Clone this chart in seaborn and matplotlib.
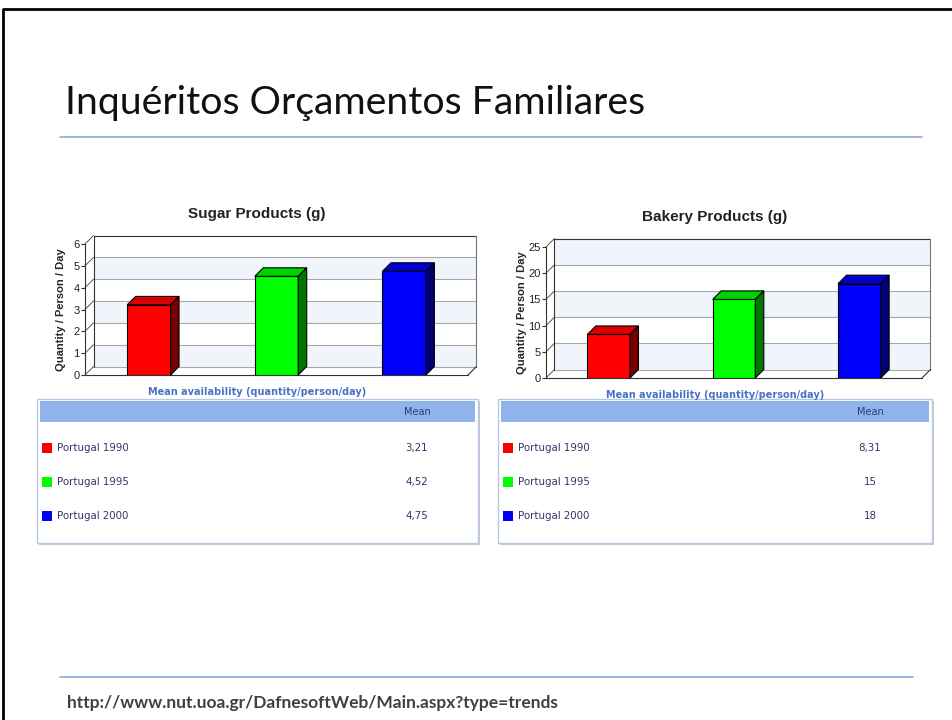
import numpy as np
import pandas as pd
import matplotlib.pyplot as plt
import seaborn as sns
from matplotlib.patches import Polygon, Rectangle
from matplotlib.transforms import IdentityTransform

W, H = 953, 720

series = ['Portugal 1990', 'Portugal 1995', 'Portugal 2000']
colors = ['#ff0000', '#00ff00', '#0000ff']
top_colors = ['#d80000', '#00d400', '#0000d4']
side_colors = ['#780000', '#007800', '#000078']

sugar = [3.21, 4.52, 4.75]
sugar_txt = ['3,21', '4,52', '4,75']
sugar_ticks = [0, 1, 2, 3, 4, 5, 6]

bakery = [8.31, 15, 18]
bakery_txt = ['8,31', '15', '18']
bakery_ticks = [0, 5, 10, 15, 20, 25]

sns.set_style('white')
plt.rcParams['font.family'] = ['Liberation Sans', 'DejaVu Sans']

fig = plt.figure(figsize=(W / 100, H / 100), dpi=100)
bg = fig.add_axes([0, 0, 1, 1])
bg.set_xlim(0, W)
bg.set_ylim(H, 0)
bg.axis('off')


def rect(l, t, r, b):
    return [l / W, 1 - b / H, (r - l) / W, (b - t) / H]


def fit(txt, width):
    # scale the font so the text spans the given pixel width
    r = fig.canvas.get_renderer()
    w = txt.get_window_extent(r).width
    txt.set_fontsize(txt.get_fontsize() * width / w)


# slide frame, title and rules
bg.plot([3, 3, W], [H, 9, 9], color='black', lw=2)
t = bg.text(65, 114, 'Inquéritos Orçamentos Familiares', fontsize=28,
            family='Lato', color='#111111', va='baseline')
fit(t, 580)
bg.plot([60, 922], [137, 137], color='#8eaad4', lw=1.2)
bg.plot([60, 913], [677, 677], color='#8eaad4', lw=1.2)
f = bg.text(67, 708, 'http://www.nut.uoa.gr/DafnesoftWeb/Main.aspx?type=trends',
            fontsize=10, family='Lato', fontweight='bold', color='#404040',
            va='baseline')
fit(f, 490)

D = 8.5  # depth of the fake 3d effect, pixels


def chart(box, values, ticks, title, cx):
    ax = fig.add_axes(rect(*box))
    df = pd.DataFrame({'serie': series, 'value': values})
    sns.barplot(data=df, x='serie', y='value', hue='serie', palette=colors,
                width=0.34, edgecolor='black', linewidth=0.8, legend=False,
                saturation=1, ax=ax, zorder=3)
    bars = sorted(ax.patches, key=lambda p: p.get_x())
    ax.set_autoscale_on(False)
    ax.set_xlim(-0.5, 2.5)
    ax.set_ylim(0, ticks[-1])
    x0, x1 = ax.get_xlim()
    tr = ax.transData.transform

    def pt(x, y, back=False):
        px, py = tr((x, y))
        return (px + D, py + D) if back else (px, py)

    def poly(pts, fc, ec='none', z=0, lw=0.8):
        ax.add_patch(Polygon(pts, closed=True, fc=fc, ec=ec, lw=lw, zorder=z,
                             transform=IdentityTransform(), clip_on=False))

    def line(a, b, c, z=1, lw=0.8):
        ax.plot([a[0], b[0]], [a[1], b[1]], color=c, lw=lw, zorder=z,
                transform=IdentityTransform(), clip_on=False)

    # back wall with bands
    for i in range(len(ticks) - 1):
        fc = '#f0f5fc' if i % 2 == 0 else 'white'
        poly([pt(x0, ticks[i], 1), pt(x1, ticks[i], 1),
              pt(x1, ticks[i + 1], 1), pt(x0, ticks[i + 1], 1)], fc)
    for v in ticks:
        line(pt(x0, v, 1), pt(x1, v, 1), '#a8a8a8')
        line(pt(x0, v), pt(x0, v, 1), '#555555', lw=0.7)
    line(pt(x0, ticks[-1], 1), pt(x1, ticks[-1], 1), '#333333')
    line(pt(x0, 0, 1), pt(x0, ticks[-1], 1), '#333333')
    line(pt(x1, 0, 1), pt(x1, ticks[-1], 1), '#777777')
    # floor
    line(pt(x0, 0), pt(x1, 0), '#333333', z=2)
    line(pt(x1, 0), pt(x1, 0, 1), '#333333', z=2)

    # tops and sides of the bars
    for p, tc, sc in zip(bars, top_colors, side_colors):
        bx0, bx1, h = p.get_x(), p.get_x() + p.get_width(), p.get_height()
        poly([pt(bx0, h), pt(bx1, h), pt(bx1, h, 1), pt(bx0, h, 1)], tc, 'black', 4)
        poly([pt(bx1, 0), pt(bx1, h), pt(bx1, h, 1), pt(bx1, 0, 1)], sc, 'black', 4)

    ax.patch.set_visible(False)
    sns.despine(ax=ax, bottom=True)
    ax.spines['left'].set_color('#333333')
    ax.spines['left'].set_linewidth(0.8)
    ax.set_xticks([])
    ax.set_xlabel('')
    ax.set_yticks(ticks)
    ax.tick_params(axis='y', length=3, width=0.8, color='#333333',
                   labelsize=8, pad=1, labelcolor='#222222', left=True)
    ax.set_ylabel('Quantity / Person / Day', fontsize=8, fontweight='bold')
    ax.yaxis.set_label_coords(-19 / (box[2] - box[0]), 0.5)

    bg.text(cx, box[1] - 30, title, fontsize=11, fontweight='bold',
            ha='center', va='center', color='#222222')
    bg.text(cx, box[3] + 17, 'Mean availability (quantity/person/day)',
            fontsize=7, fontweight='bold', family='DejaVu Sans',
            color='#4a72c4', ha='center', va='center')
    return ax


chart((85, 244, 468, 375), sugar, sugar_ticks, 'Sugar Products (g)', 257)
chart((546, 247, 922, 378), bakery, bakery_ticks, 'Bakery Products (g)', 715)


def table(l, r, mean_x, texts):
    bg.add_patch(Rectangle((l + 2, 401), r - l, 144, fc='#c4c8d0', ec='none'))
    bg.add_patch(Rectangle((l, 399), r - l, 144, fc='white', ec='#b8c8e0', lw=1))
    bg.add_patch(Rectangle((l + 3, 401), r - l - 6, 21, fc='#8fb4ec', ec='none'))
    bg.text(mean_x, 412, 'Mean', fontsize=7, family='DejaVu Sans',
            color='#2e3b6b', ha='center', va='center')
    for i, (s, c, v) in enumerate(zip(series, colors, texts)):
        y = 448 + 34 * i
        bg.add_patch(Rectangle((l + 5, y - 5), 10, 10, fc=c, ec='none'))
        bg.text(l + 20, y, s, fontsize=7.4, family='DejaVu Sans',
                color='#35356b', va='center')
        bg.text(mean_x, y, v, fontsize=7.4, family='DejaVu Sans',
                color='#35356b', ha='center', va='center')


table(37, 478, 417, sugar_txt)
table(498, 932, 870, bakery_txt)

fig.savefig('out.png', dpi=100)
